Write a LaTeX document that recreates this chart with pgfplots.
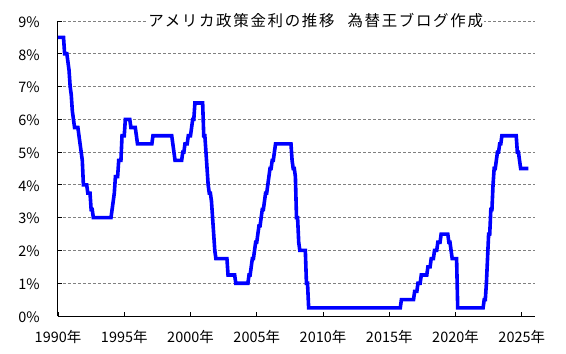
\documentclass[border=0pt]{standalone}
\usepackage{fontspec}
\setmainfont{Noto Sans CJK JP}
\newfontfamily\titlefont[LetterSpace=11]{Noto Sans CJK JP}
\usepackage{pgfplots}
\pgfplotsset{compat=1.18}
\begin{document}
\begin{tikzpicture}
\useasboundingbox (-58bp,-38bp) rectangle (508bp,316bp);
\begin{axis}[
  at={(0,0)}, anchor=south west,
  scale only axis, width=477bp, height=295bp,
  xmin=1990, xmax=2026, ymin=0, ymax=9,
  axis x line*=bottom, axis y line*=left,
  axis line style={black, line width=1bp},
  xtick={1990,1995,2000,2005,2010,2015,2020,2025},
  xticklabels={1990年,1995年,2000年,2005年,2010年,2015年,2020年,2025年},
  ytick={0,1,2,3,4,5,6,7,8,9},
  yticklabels={0\%,1\%,2\%,3\%,4\%,5\%,6\%,7\%,8\%,9\%},
  ymajorgrids,
  grid style={draw=black!50, dash pattern=on 3bp off 2bp, line width=0.9bp},
  tick align=inside, major tick length=4bp,
  tick style={black, line width=0.9bp},
  ticklabel style={font=\fontsize{14.5}{14.5}\selectfont},
  yticklabel style={anchor=east, inner sep=0pt, xshift=-18bp, yshift=-1bp},
  xticklabel style={anchor=north, inner sep=0pt, yshift=-14bp},
  clip=false,
]
\addplot[color={rgb,255:red,0;green,0;blue,255}, line width=3.6bp, mark=none] coordinates {
(1990.000,8.5) (1990.417,8.5) (1990.5,8.0) (1990.667,8.0) (1990.75,7.75) (1990.833,7.5) (1990.917,7.0)
(1991.000,6.75) (1991.083,6.25) (1991.167,6.0) (1991.25,5.75) (1991.5,5.75) (1991.583,5.5) (1991.667,5.25) (1991.75,5.0) (1991.833,4.75) (1991.917,4.0)
(1992.167,4.0) (1992.25,3.75) (1992.417,3.75) (1992.5,3.25) (1992.583,3.25) (1992.667,3.0)
(1994.000,3.0) (1994.083,3.25) (1994.167,3.5) (1994.25,3.75) (1994.333,4.25) (1994.5,4.25) (1994.583,4.75) (1994.75,4.75) (1994.833,5.5) (1994.917,5.5)
(1995.000,5.5) (1995.083,6.0) (1995.417,6.0) (1995.5,5.75) (1995.833,5.75) (1995.917,5.5)
(1996.000,5.25)
(1997.083,5.25) (1997.167,5.5)
(1998.583,5.5) (1998.667,5.25) (1998.75,5.0) (1998.833,4.75)
(1999.333,4.75) (1999.417,5.0) (1999.5,5.0) (1999.583,5.25) (1999.75,5.25) (1999.833,5.5)
(2000.000,5.5) (2000.083,5.75) (2000.167,6.0) (2000.25,6.0) (2000.333,6.5) (2000.917,6.5)
(2001.000,5.5) (2001.083,5.5) (2001.167,5.0) (2001.25,4.5) (2001.333,4.0) (2001.417,3.75) (2001.5,3.75) (2001.583,3.5) (2001.667,3.0) (2001.75,2.5) (2001.833,2.0) (2001.917,1.75)
(2002.75,1.75) (2002.833,1.25)
(2003.333,1.25) (2003.417,1.0)
(2004.333,1.0) (2004.417,1.25) (2004.5,1.25) (2004.583,1.5) (2004.667,1.75) (2004.75,1.75) (2004.833,2.0) (2004.917,2.25)
(2005.000,2.25) (2005.083,2.5) (2005.167,2.75) (2005.25,2.75) (2005.333,3.0) (2005.417,3.25) (2005.5,3.25) (2005.583,3.5) (2005.667,3.75) (2005.75,3.75) (2005.833,4.0) (2005.917,4.25)
(2006.000,4.5) (2006.083,4.5) (2006.167,4.75) (2006.25,4.75) (2006.333,5.0) (2006.417,5.25)
(2007.583,5.25) (2007.667,4.75) (2007.75,4.5) (2007.833,4.5) (2007.917,4.25)
(2008.000,3.0) (2008.083,3.0) (2008.167,2.25) (2008.25,2.0) (2008.667,2.0) (2008.75,1.0) (2008.833,1.0) (2008.917,0.25)
(2015.833,0.25) (2015.917,0.5)
(2016.833,0.5) (2016.917,0.75)
(2017.083,0.75) (2017.167,1.0) (2017.333,1.0) (2017.417,1.25) (2017.833,1.25) (2017.917,1.5)
(2018.083,1.5) (2018.167,1.75) (2018.333,1.75) (2018.417,2.0) (2018.583,2.0) (2018.667,2.25) (2018.833,2.25) (2018.917,2.5)
(2019.417,2.5) (2019.5,2.25) (2019.583,2.25) (2019.667,2.0) (2019.75,1.75)
(2020.083,1.75) (2020.167,0.25)
(2022.083,0.25) (2022.167,0.5) (2022.25,0.5) (2022.333,1.0) (2022.417,1.75) (2022.5,2.5) (2022.583,2.5) (2022.667,3.25) (2022.75,3.25) (2022.833,4.0) (2022.917,4.5)
(2023.000,4.5) (2023.083,4.75) (2023.167,5.0) (2023.25,5.0) (2023.333,5.25) (2023.417,5.25) (2023.5,5.5)
(2024.583,5.5) (2024.667,5.0) (2024.75,5.0) (2024.833,4.75) (2024.917,4.5)
(2025.5,4.5)
};
\node[fill=white, inner sep=1.5bp, font=\titlefont\fontsize{15.5}{15.5}\selectfont] at (axis cs:2009.45,9) {アメリカ政策金利の推移\hspace{13bp}為替王ブログ作成};
\end{axis}
\end{tikzpicture}
\end{document}
